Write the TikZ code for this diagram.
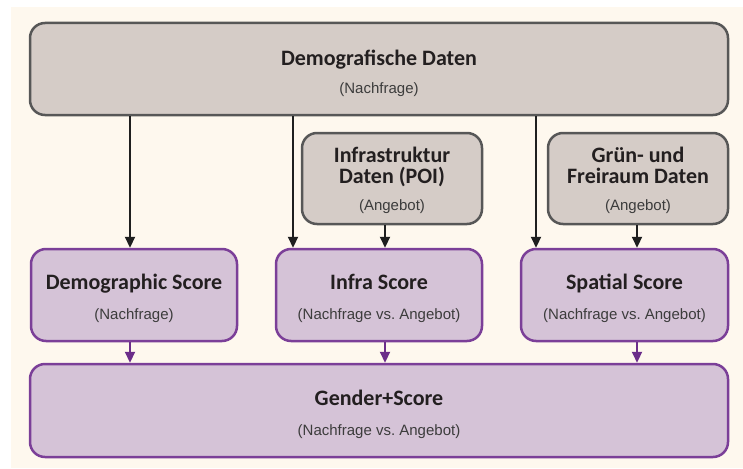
\documentclass[tikz,border=0pt]{standalone}
\usepackage{fontspec}
\usetikzlibrary{arrows.meta}
\setmainfont{Liberation Sans}
\newfontfamily\ttlfont{Carlito}
\frenchspacing
\definecolor{bgcream}{HTML}{FEF8EE}
\definecolor{grayfill}{HTML}{D5CCC7}
\definecolor{grayline}{HTML}{575757}
\definecolor{purfill}{HTML}{D5C3D7}
\definecolor{purline}{HTML}{7B3F98}
\definecolor{purarrow}{HTML}{6B2D8A}
\definecolor{ttlcol}{HTML}{231F20}
\definecolor{subcol}{HTML}{3C3C3C}
\newcommand{\ttl}{\ttlfont\bfseries\fontsize{22}{20}\selectfont\color{ttlcol}}
\newcommand{\lift}[1]{\rule{0pt}{#1}}
\tikzset{
  box/.style={rounded corners=15pt, line width=2.5pt, align=center, inner sep=0pt,
    font=\fontsize{15}{18}\selectfont, text=subcol},
  graybox/.style={box, draw=grayline, fill=grayfill},
  purbox/.style={box, draw=purline, fill=purfill},
  arr/.style={draw=black!88, line width=2.2pt, -{Triangle[length=11pt,width=10pt]}},
  parr/.style={draw=purarrow, line width=2.2pt, -{Triangle[length=11pt,width=10pt]}},
}
\begin{document}
\begin{tikzpicture}[x=1pt,y=-1pt]
\useasboundingbox (0,0) rectangle (743,468);
\fill[bgcream] (11,7) rectangle (743,468);

\node[graybox, minimum width=698pt, minimum height=92pt] (dd) at (379,69)
  {{\ttl\lift{25pt}Demografische Daten}\\[10pt](Nachfrage)};
\node[graybox, minimum width=180pt, minimum height=91pt] (inf) at (392,178.5)
  {{\ttl\lift{20pt}Infrastruktur}\\[3pt]{\ttl Daten (POI)}\\[9pt](Angebot)};
\node[graybox, minimum width=180pt, minimum height=91pt] (gr) at (638,178.5)
  {{\ttl\lift{20pt}Grün- und}\\[3pt]{\ttl Freiraum Daten}\\[9pt](Angebot)};

\node[purbox, minimum width=206pt, minimum height=92pt] (ds) at (134,295)
  {{\ttl\lift{22pt}Demographic Score}\\[12pt](Nachfrage)};
\node[purbox, minimum width=206pt, minimum height=92pt] (is) at (379,295)
  {{\ttl\lift{22pt}Infra Score}\\[12pt](Nachfrage vs. Angebot)};
\node[purbox, minimum width=207pt, minimum height=92pt] (ss) at (624.5,295)
  {{\ttl\lift{22pt}Spatial Score}\\[12pt](Nachfrage vs. Angebot)};

\node[purbox, minimum width=698pt, minimum height=93pt] (gs) at (379,410.5)
  {{\ttl\lift{23pt}Gender+Score}\\[12pt](Nachfrage vs. Angebot)};

\draw[arr] (dd.south -| 130,0) -- (ds.north -| 130,0);
\draw[arr] (dd.south -| 293,0) -- (is.north -| 293,0);
\draw[arr] (dd.south -| 536,0) -- (ss.north -| 536,0);
\draw[arr] (inf.south -| 385,0) -- (is.north -| 385,0);
\draw[arr] (gr.south -| 637,0) -- (ss.north -| 637,0);

\draw[parr] (ds.south -| 130,0) -- (gs.north -| 130,0);
\draw[parr] (is.south -| 385,0) -- (gs.north -| 385,0);
\draw[parr] (ss.south -| 637,0) -- (gs.north -| 637,0);
\end{tikzpicture}
\end{document}
